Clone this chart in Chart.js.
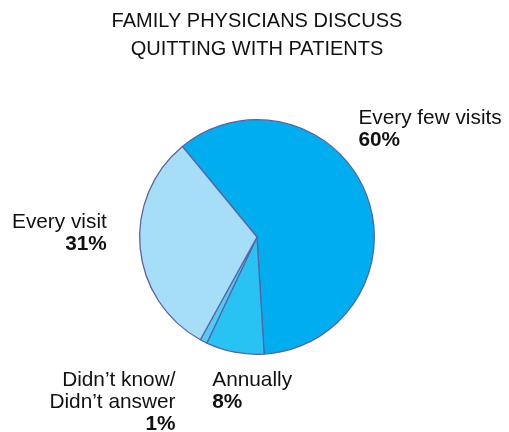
<!DOCTYPE html>
<html>
<head>
<meta charset="utf-8">
<script src="https://cdn.jsdelivr.net/npm/chart.js@4"></script>
<style>
  html, body { margin: 0; padding: 0; background: #fff; }
  #wrap { width: 509px; height: 432px; }
</style>
</head>
<body>
<div id="wrap"><canvas id="chart" width="509" height="432"></canvas></div>
<script>
// data
const categories = ['Every few visits', 'Annually', 'Didn\u2019t know/\nDidn\u2019t answer', 'Every visit'];
const shares = [60, 8, 1, 31];
const shareLabels = ['60%', '8%', '1%', '31%'];
const titleLines = ['FAMILY PHYSICIANS DISCUSS', 'QUITTING WITH PATIENTS'];

// slice colours and label placement (relative to pie radius)
const sliceColors = ['#00aeef', '#29c3f3', '#4fcbf4', '#a6ddf7'];
const labelPlacement = [
  { dx: 0.864, dy: -0.966, align: 'left' },
  { dx: -0.381, dy: 1.271, align: 'left' },
  { dx: -0.695, dy: 1.271, align: 'right' },
  { dx: -1.280, dy: -0.076, align: 'right' }
];

const FONT = '"Liberation Sans", Arial, Helvetica, sans-serif';

// draws the category name + bold percentage next to each slice
const sliceLabels = {
  id: 'sliceLabels',
  afterDatasetsDraw(chart) {
    const ctx = chart.ctx;
    const arcs = chart.getDatasetMeta(0).data;
    ctx.save();
    ctx.fillStyle = '#111';
    ctx.textBaseline = 'alphabetic';
    arcs.forEach((arc, i) => {
      const p = labelPlacement[i];
      const x = arc.x + p.dx * arc.outerRadius;
      let y = arc.y + p.dy * arc.outerRadius;
      ctx.textAlign = p.align;
      ctx.font = '20.8px ' + FONT;
      categories[i].split('\n').forEach(line => {
        ctx.fillText(line, x, y);
        y += 22;
      });
      ctx.font = 'bold 20.8px ' + FONT;
      ctx.fillText(shareLabels[i], x, y);
    });
    ctx.restore();
  }
};

new Chart(document.getElementById('chart'), {
  type: 'pie',
  data: {
    labels: categories,
    datasets: [{
      data: shares,
      backgroundColor: sliceColors,
      borderColor: '#5a62a8',
      borderWidth: 1.3
    }]
  },
  options: {
    responsive: false,
    animation: false,
    rotation: -39.5,
    layout: { padding: { top: 0, bottom: 77, left: 5, right: 0 } },
    plugins: {
      legend: { display: false },
      tooltip: { enabled: false },
      title: {
        display: true,
        text: titleLines,
        color: '#111',
        font: { family: FONT, size: 20, weight: 'normal', lineHeight: 1.4 },
        padding: { top: 7, bottom: 56 }
      }
    }
  },
  plugins: [sliceLabels]
});
</script>
</body>
</html>
